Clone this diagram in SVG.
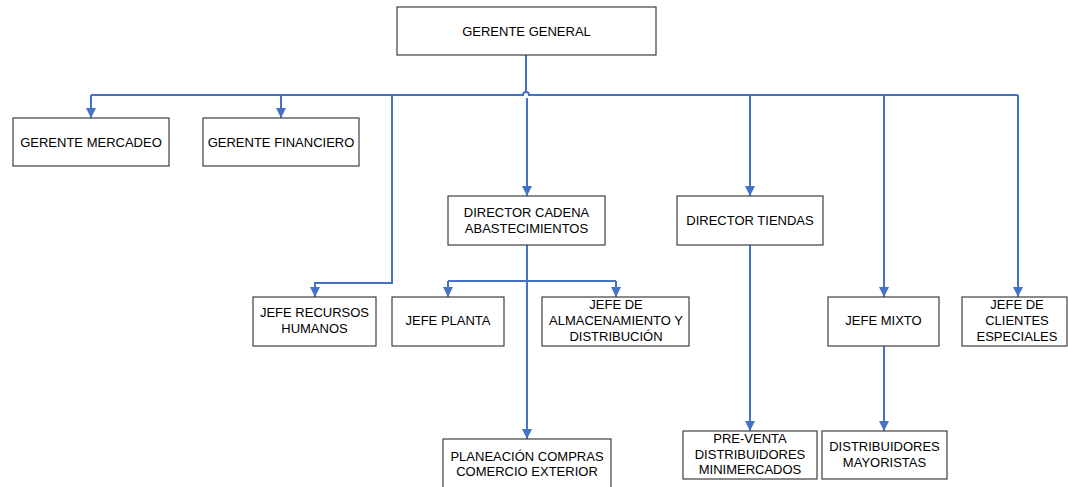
<svg xmlns="http://www.w3.org/2000/svg" width="1068" height="487" viewBox="0 0 1068 487">
  <style>
    .box { fill: #ffffff; stroke: #3f3f3f; stroke-width: 1.2; }
    .lbl { font-family: "Liberation Sans", Arial, sans-serif; font-size: 13px; fill: #000000; text-anchor: middle; }
    .wire { fill: none; stroke: #4472c4; stroke-width: 2; }
    .arr { fill: none; stroke: #4472c4; stroke-width: 2; marker-end: url(#head); }
  </style>
  <defs>
    <marker id="head" viewBox="0 0 10 10" refX="10" refY="5" markerUnits="userSpaceOnUse" markerWidth="10" markerHeight="11" orient="auto">
      <path d="M0,0 L10,5 L0,10 Z" fill="#4472c4"/>
    </marker>
  </defs>
  <rect width="1068" height="487" fill="#ffffff"/>

  <g id="connectors">
    <!-- top trunk and horizontal bus with a small hop at the trunk -->
    <path class="wire" d="M526,55 V92"/>
    <path class="wire" d="M91,95 H523 A3,3 0 0 1 529,95 H1018"/>
    <path class="arr" d="M91,95 V118"/>
    <path class="arr" d="M281,95 V118"/>
    <path class="arr" d="M392,95 V283 H315 V297"/>
    <path class="arr" d="M527,98 V196"/>
    <path class="arr" d="M750,95 V196"/>
    <path class="arr" d="M884,95 V297"/>
    <path class="arr" d="M1018,95 V297"/>
    <!-- director cadena branches -->
    <path class="arr" d="M527,245 V439"/>
    <path class="wire" d="M448,281 H616"/>
    <path class="arr" d="M448,281 V297"/>
    <path class="arr" d="M616,281 V297"/>
    <!-- director tiendas and jefe mixto -->
    <path class="arr" d="M750,245 V431"/>
    <path class="arr" d="M884,346 V431"/>
  </g>

  <g id="gerente-general">
    <rect class="box" x="397" y="7" width="259" height="48"/>
    <text class="lbl" x="526.5" y="35.5">GERENTE GENERAL</text>
  </g>
  <g id="gerente-mercadeo">
    <rect class="box" x="13" y="118" width="156" height="48"/>
    <text class="lbl" x="91" y="146.5">GERENTE MERCADEO</text>
  </g>
  <g id="gerente-financiero">
    <rect class="box" x="203" y="118" width="156" height="48"/>
    <text class="lbl" x="281" y="146.5">GERENTE FINANCIERO</text>
  </g>
  <g id="director-cadena">
    <rect class="box" x="448" y="196" width="157" height="49"/>
    <text class="lbl" x="526.5" y="217">DIRECTOR CADENA</text>
    <text class="lbl" x="526.5" y="233">ABASTECIMIENTOS</text>
  </g>
  <g id="director-tiendas">
    <rect class="box" x="677" y="196" width="146" height="49"/>
    <text class="lbl" x="750" y="225">DIRECTOR TIENDAS</text>
  </g>
  <g id="jefe-recursos-humanos">
    <rect class="box" x="253" y="297" width="123" height="49"/>
    <text class="lbl" x="314.5" y="317">JEFE RECURSOS</text>
    <text class="lbl" x="314.5" y="333">HUMANOS</text>
  </g>
  <g id="jefe-planta">
    <rect class="box" x="392" y="297" width="112" height="49"/>
    <text class="lbl" x="448" y="325">JEFE PLANTA</text>
  </g>
  <g id="jefe-almacenamiento">
    <rect class="box" x="542" y="297" width="147" height="49"/>
    <text class="lbl" x="616" y="309">JEFE DE</text>
    <text class="lbl" x="616" y="325">ALMACENAMIENTO Y</text>
    <text class="lbl" x="616" y="341">DISTRIBUCIÓN</text>
  </g>
  <g id="jefe-mixto">
    <rect class="box" x="828" y="297" width="111" height="49"/>
    <text class="lbl" x="883.5" y="325">JEFE MIXTO</text>
  </g>
  <g id="jefe-clientes-especiales">
    <rect class="box" x="962" y="297" width="105" height="49"/>
    <text class="lbl" x="1017" y="309">JEFE DE</text>
    <text class="lbl" x="1017" y="325">CLIENTES</text>
    <text class="lbl" x="1017" y="341">ESPECIALES</text>
  </g>
  <g id="planeacion-compras">
    <rect class="box" x="443" y="439" width="168" height="52"/>
    <text class="lbl" x="527" y="461">PLANEACIÓN COMPRAS</text>
    <text class="lbl" x="527" y="476">COMERCIO EXTERIOR</text>
  </g>
  <g id="pre-venta">
    <rect class="box" x="683" y="431" width="134" height="48"/>
    <text class="lbl" x="750" y="443">PRE-VENTA</text>
    <text class="lbl" x="750" y="458.5">DISTRIBUIDORES</text>
    <text class="lbl" x="750" y="474">MINIMERCADOS</text>
  </g>
  <g id="distribuidores-mayoristas">
    <rect class="box" x="822" y="431" width="125" height="48"/>
    <text class="lbl" x="884.5" y="451">DISTRIBUIDORES</text>
    <text class="lbl" x="884.5" y="467">MAYORISTAS</text>
  </g>
</svg>
